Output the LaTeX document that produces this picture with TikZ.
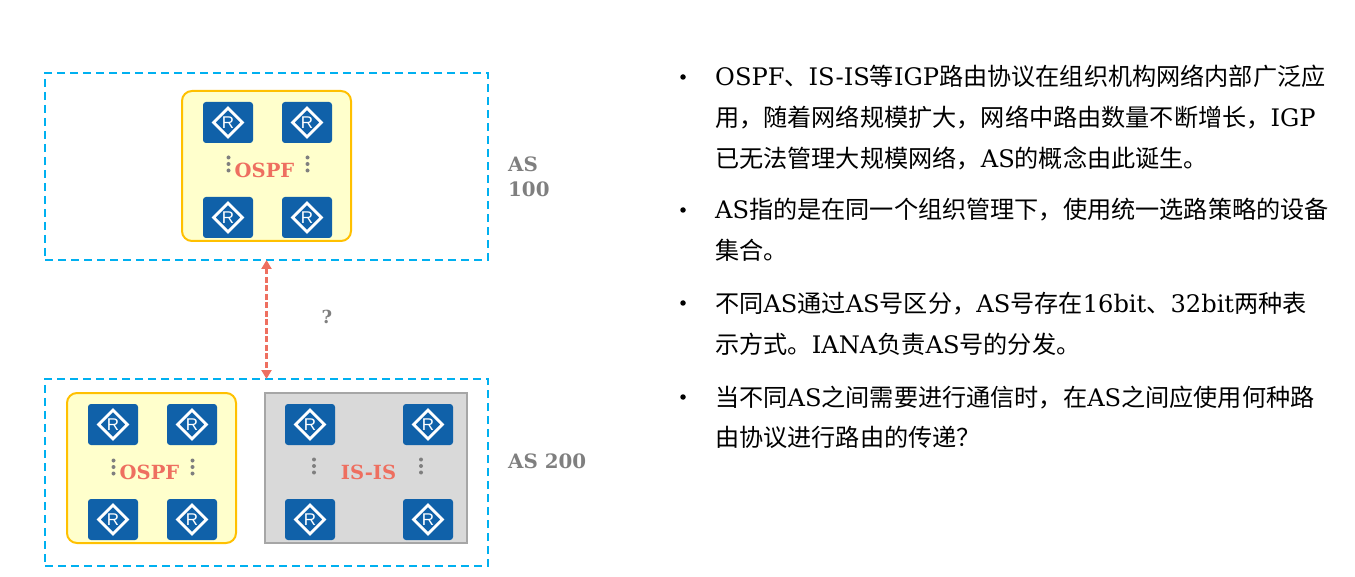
\documentclass[tikz,border=0pt]{standalone}
\usepackage{fontspec}
\setmainfont{DejaVu Serif}
\newfontfamily\cjk{Noto Sans CJK SC}
\newfontfamily\rfont{Liberation Sans}
\usetikzlibrary{arrows.meta,shapes.geometric}
\definecolor{asblue}{HTML}{00B0F0}
\definecolor{routerblue}{HTML}{1061A9}
\definecolor{ospfyellow}{HTML}{FFC000}
\definecolor{ospffill}{HTML}{FFFFCC}
\definecolor{isfill}{HTML}{D9D9D9}
\definecolor{isline}{HTML}{A6A6A6}
\definecolor{salmon}{HTML}{EE6F60}
\definecolor{labelgrey}{HTML}{7F7F7F}
\tikzset{
  asbox/.style={draw=asblue,line width=2pt,dash pattern=on 8pt off 5pt,minimum width=443pt,inner sep=0pt,outer sep=0pt},
  ospfbox/.style={draw=ospfyellow,fill=ospffill,line width=2pt,rounded corners=10pt,minimum width=169pt,minimum height=150pt,outer sep=0pt},
  isbox/.style={draw=isline,fill=isfill,line width=2pt,minimum width=202pt,minimum height=150pt,outer sep=0pt},
  routerbox/.style={fill=routerblue,rounded corners=3pt,minimum width=50pt,minimum height=41pt,inner sep=0pt,outer sep=0pt},
  routermark/.style={diamond,draw=white,line width=2.8pt,aspect=1,minimum width=30pt,minimum height=30pt,inner sep=0pt,text=white,font=\rfont\fontsize{17}{17}\selectfont},
  protolabel/.style={text=salmon,font=\bfseries\fontsize{19.5}{19.5}\selectfont,inner sep=0pt},
  aslabel/.style={text=labelgrey,font=\bfseries\fontsize{19.8}{25}\selectfont,inner sep=0pt,anchor=base west,align=left},
  dotted3/.style={fill=labelgrey,circle,minimum size=4pt,inner sep=0pt},
  bodyline/.style={anchor=base west,inner sep=0pt,font=\fontsize{24.15}{24.15}\selectfont},
  bullet/.style={circle,fill=black,minimum size=5.5pt,inner sep=0pt},
  link/.style={draw=salmon,line width=2.5pt,dash pattern=on 6pt off 2.5pt,{Triangle[length=9pt,width=10pt]}-{Triangle[length=9pt,width=10pt]}}
}
\newcommand{\router}[3]{%
  \node[routerbox] (#1) at (#2,#3) {};
  \node[routermark] (#1m) at (#2,#3) {R};
}
\newcommand{\vdotsat}[3]{%
  \node[dotted3] (#1a) at (#2,#3-6.5) {};
  \node[dotted3] (#1b) at (#2,#3) {};
  \node[dotted3] (#1c) at (#2,#3+6.5) {};
}
\begin{document}
\begin{tikzpicture}[x=1pt,y=-1pt]
\useasboundingbox (0,0) rectangle (1355,577);
% AS frames
\node[asbox,minimum height=187pt] (as100) at (266.5,166.5) {};
\node[asbox,minimum height=187pt] (as200) at (266.5,472.5) {};
% protocol boxes
\node[ospfbox] (ospfa) at (266.5,166) {};
\node[ospfbox] (ospfb) at (151.5,468) {};
\node[isbox] (isis) at (366,468) {};
% routers
\router{ra1}{228}{122.5}\router{ra2}{307}{122.5}\router{ra3}{228}{217.5}\router{ra4}{307}{217.5}
\router{rb1}{113}{424.5}\router{rb2}{192}{424.5}\router{rb3}{113}{519.5}\router{rb4}{192}{519.5}
\router{rc1}{310}{424.5}\router{rc2}{428}{424.5}\router{rc3}{310}{519.5}\router{rc4}{428}{519.5}
% ellipsis dots
\vdotsat{da}{228.5}{164}\vdotsat{db}{307.5}{164}
\vdotsat{dc}{113.5}{467}\vdotsat{dd}{192.5}{467}
\vdotsat{de}{314}{466}\vdotsat{df}{421}{466}
% labels
\node[protolabel] (lospfa) at (264.5,170) {OSPF};
\node[protolabel] (lospfb) at (149.5,472) {OSPF};
\node[protolabel] (lisis) at (368.5,472) {IS-IS};
\node[aslabel] (l100) at (508,197) {AS\\100};
\node[aslabel] (l200) at (508,468) {AS 200};
\node[text=labelgrey,font=\bfseries\fontsize{18}{18}\selectfont,inner sep=0pt] (q) at (327,317) {?};
% link
\coordinate (lt) at (as100.south -| 266.5,0);
\coordinate (lb) at (as200.north -| 266.5,0);
\draw[link] (lt) -- (lb);
% text
\newcommand{\textline}[3]{\node[bodyline] (#1) at (715,#2) {#3};}
\foreach \y in {77,210,303,397}{\node[bullet] at (683,\y) {};}
\textline{t1}{86}{OSPF{\cjk 、}IS-IS{\cjk 等}IGP{\cjk 路由协议在组织机构网络内部广泛应}}
\textline{t2}{126.5}{{\cjk 用，随着网络规模扩大，网络中路由数量不断增长，}IGP}
\textline{t3}{167.5}{{\cjk 已无法管理大规模网络，}AS{\cjk 的概念由此诞生。}}
\textline{t4}{219}{AS{\cjk 指的是在同一个组织管理下，使用统一选路策略的设备}}
\textline{t5}{260}{{\cjk 集合。}}
\textline{t6}{312.5}{{\cjk 不同}AS{\cjk 通过}AS{\cjk 号区分，}AS{\cjk 号存在}16bit{\cjk 、}32bit{\cjk 两种表}}
\textline{t7}{353.5}{{\cjk 示方式。}IANA{\cjk 负责}AS{\cjk 号的分发。}}
\textline{t8}{406}{{\cjk 当不同}AS{\cjk 之间需要进行通信时，在}AS{\cjk 之间应使用何种路}}
\textline{t9}{446.5}{{\cjk 由协议进行路由的传递？}}
\end{tikzpicture}
\end{document}
